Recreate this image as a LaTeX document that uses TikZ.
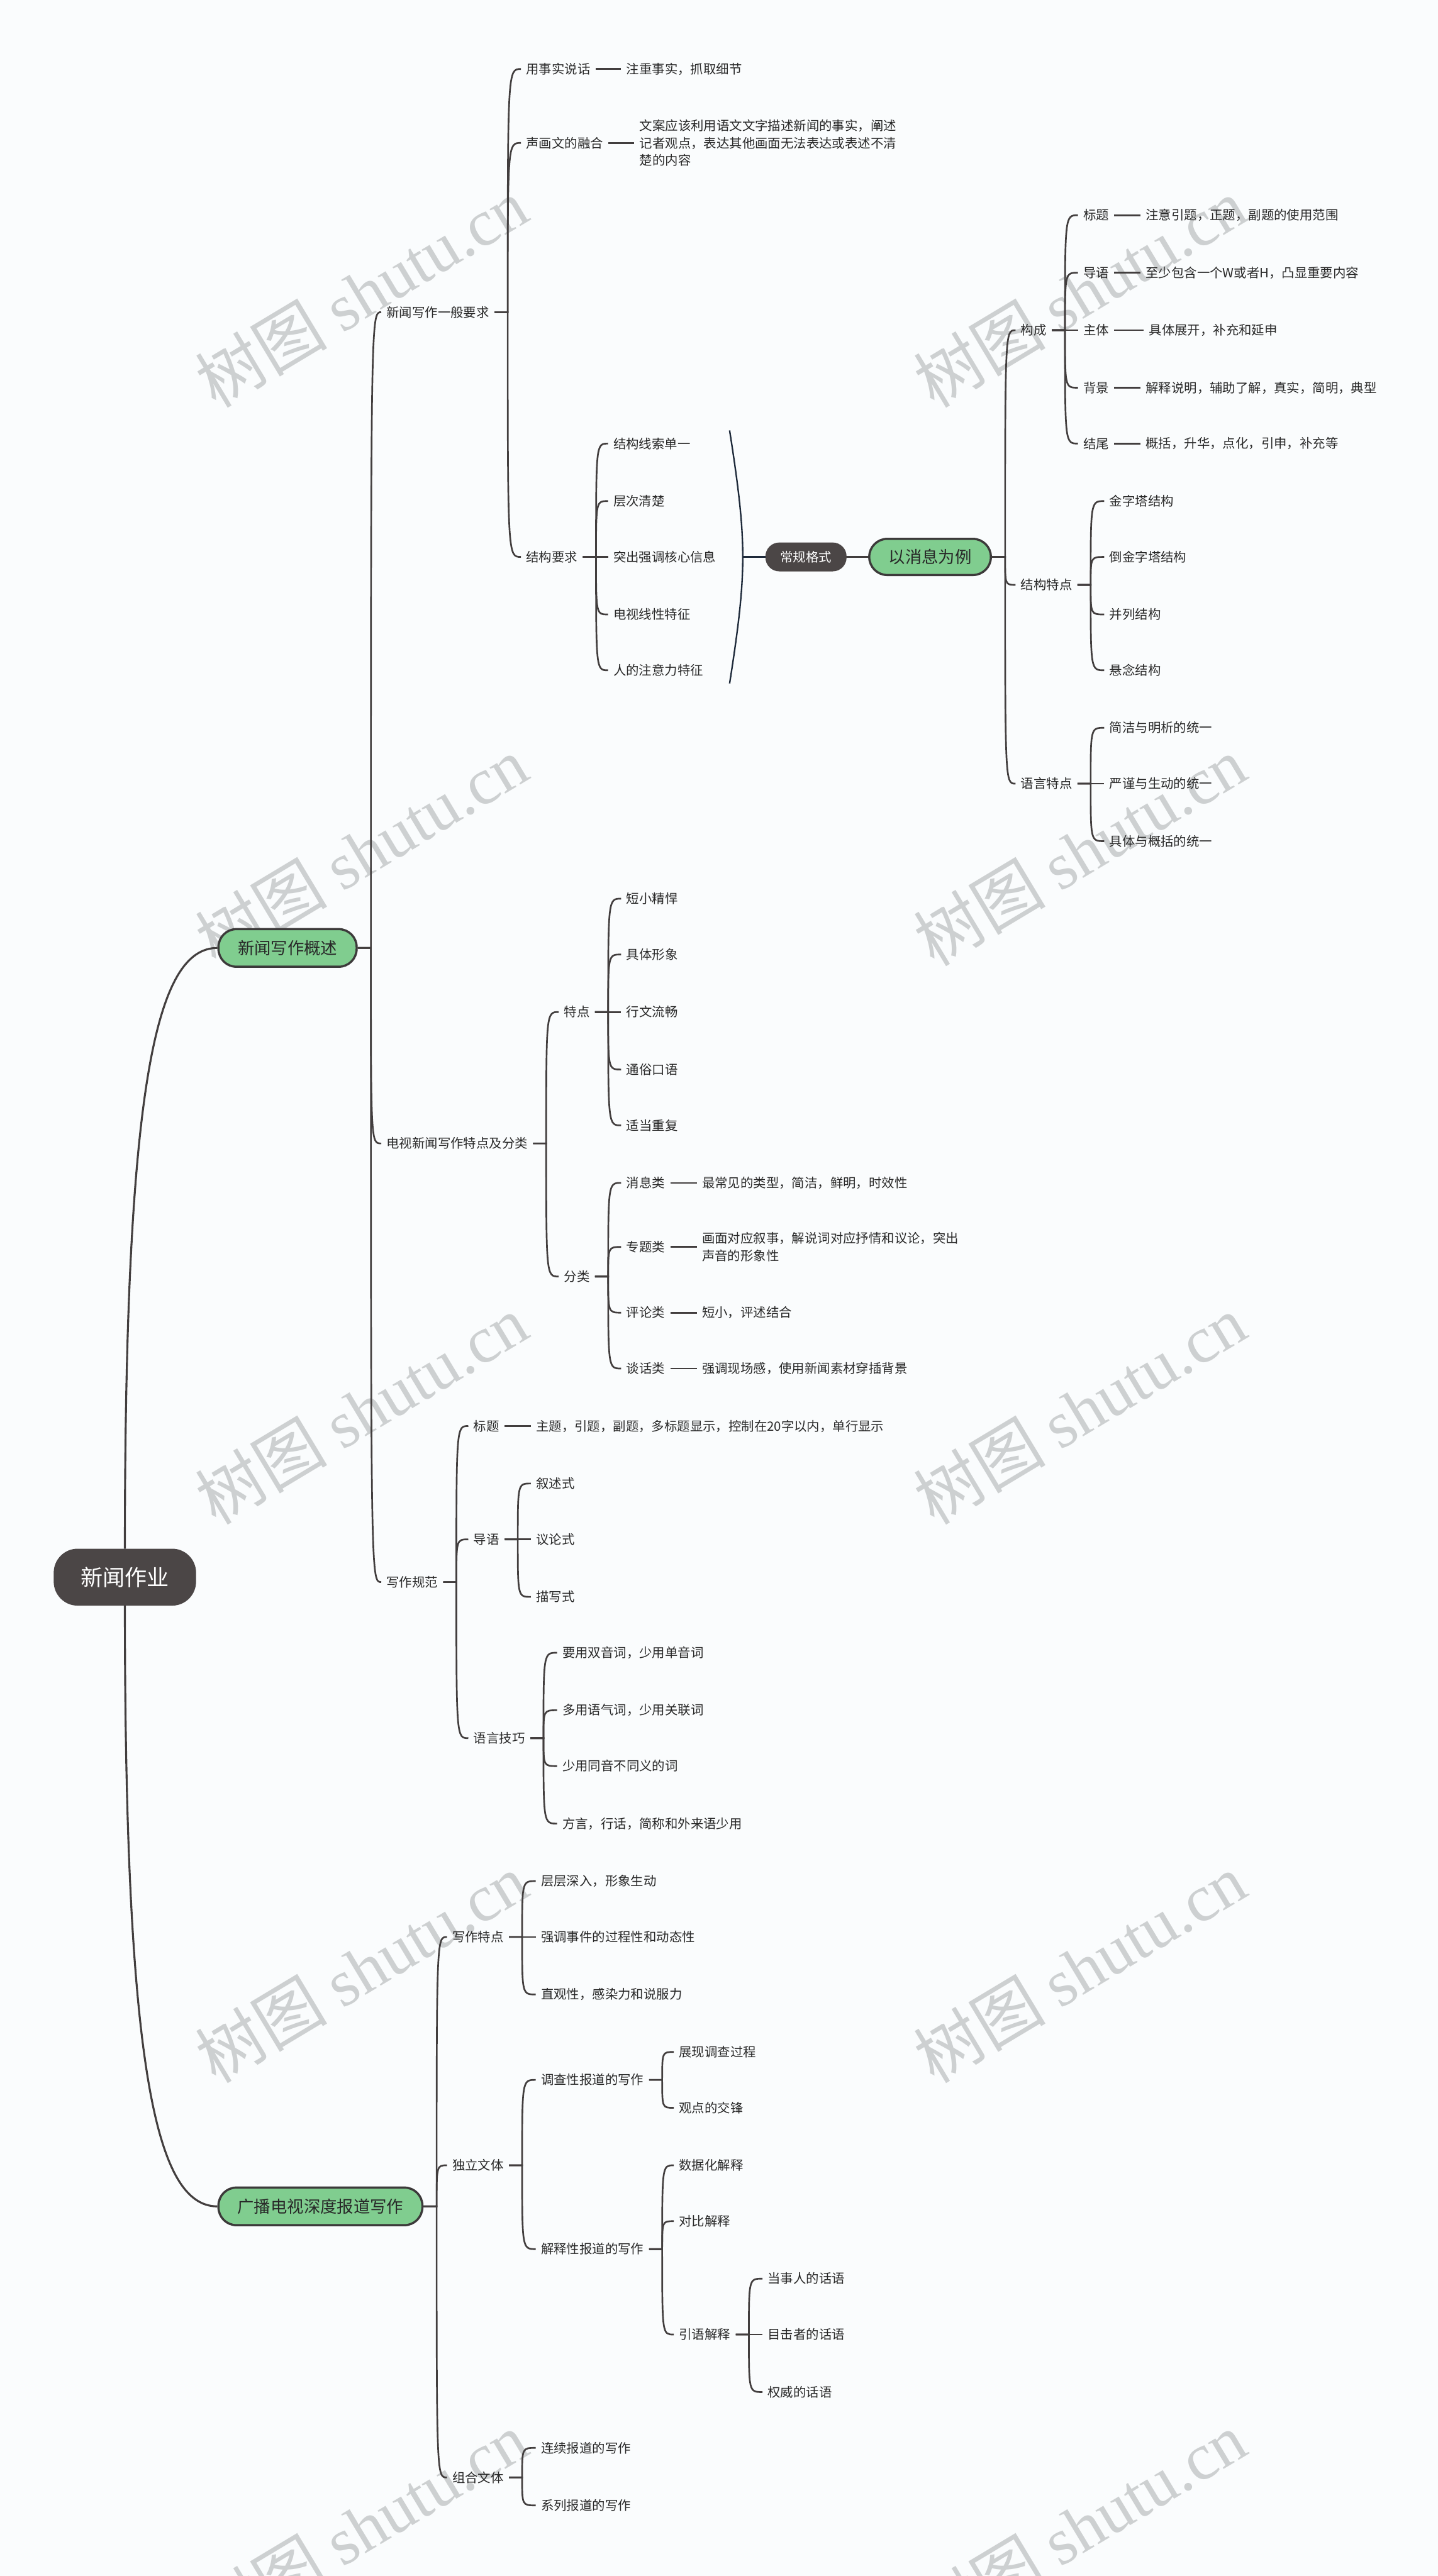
\documentclass[tikz,border=0pt]{standalone}
\usepackage{fontspec}
\setmainfont{Noto Sans CJK SC}
\newfontfamily\wmlat{Liberation Serif}
\usetikzlibrary{calc}
\definecolor{bgc}{RGB}{250,252,253}
\definecolor{linec}{RGB}{66,62,62}
\definecolor{textc}{RGB}{40,40,40}
\definecolor{greenc}{RGB}{128,205,143}
\definecolor{darkc}{RGB}{75,70,70}
\definecolor{bordc}{RGB}{60,58,58}
\definecolor{bracec}{RGB}{30,42,58}
\definecolor{wmc}{RGB}{205,208,209}
\tikzset{
  lbl/.style={anchor=west, inner xsep=2.5pt, inner ysep=1pt, text=textc,
    font=\fontsize{6.5pt}{8.7pt}\selectfont, align=left},
  conn/.style={draw=linec, line width=0.85pt},
  rootconn/.style={draw=linec, line width=1pt},
  rootbox/.style={fill=darkc, draw=darkc, rounded corners=0.42cm, minimum width=2.52cm,
    minimum height=1cm, text=white, font=\fontsize{11.2pt}{13pt}\selectfont, inner sep=0pt},
  greenbox/.style={fill=greenc, draw=bordc, line width=1.1pt, rounded corners=0.32cm,
    minimum height=0.67cm, text=textc, font=\fontsize{8.4pt}{10pt}\selectfont, inner sep=0pt},
  darkpill/.style={fill=darkc, draw=darkc, rounded corners=0.24cm, minimum width=1.43cm,
    minimum height=0.5cm, text=white, font=\fontsize{6.5pt}{8pt}\selectfont, inner sep=0pt},
  wm/.style={text=wmc, rotate=31, inner sep=0pt, font=\fontsize{33.5pt}{33.5pt}\selectfont},
  bracel/.style={draw=bracec, line width=0.75pt},
}
\newcommand\mmlink[2]{%
  \path (#1.east) ++(8,0) coordinate (J);
  \foreach \c in {#2}{%
    \draw[conn] (#1.east) -- (J) .. controls (J |- \c.west) and (J |- \c.west) .. (\c.west);
  }%
}
\newcommand\mmdesc[2]{\draw[conn] (#1.east) -- (#2.west);}
\begin{document}
\begin{tikzpicture}[x=0.029257cm, y=-0.029257cm]
\useasboundingbox (0,0) rectangle (875,1568);
\fill[bgc] (0,0) rectangle (875,1568);
% watermarks
\foreach \wx/\wy [count=\i] in {220/178,657/178,220/518,657/518,220/858,657/858,220/1198,657/1198,220/1538,657/1538}{
  \node[wm] (wm\i) at (\wx,\wy) {树图 {\wmlat shutu.cn}};
}
% root and level 1
\node[rootbox] (root) at (76,960) {新闻作业};
\node[greenbox, minimum width=2.46cm] (a) at (175,577) {新闻写作概述};
\node[greenbox, minimum width=3.63cm] (b) at (195,1343) {广播电视深度报道写作};
\draw[rootconn] (root.north) .. controls (76,660) and (95,577) .. (a.west);
\draw[rootconn] (root.south) .. controls (76,1260) and (95,1343) .. (b.west);

% level 2 under a
\node[lbl] (a1) at (232,190) {新闻写作一般要求};
\node[lbl] (a2) at (232,696) {电视新闻写作特点及分类};
\node[lbl] (a3) at (232,963) {写作规范};
\mmlink{a}{a1,a2,a3}

% a1
\node[lbl] (a11) at (317,42) {用事实说话};
\node[lbl] (a11d) at (378,42) {注重事实，抓取细节};
\node[lbl] (a12) at (317,87) {声画文的融合};
\node[lbl] (a12d) at (386,87) {文案应该利用语文文字描述新闻的事实，阐述\\记者观点，表达其他画面无法表达或表述不清\\楚的内容};
\node[lbl] (a13) at (317,339) {结构要求};
\mmlink{a1}{a11,a12,a13}
\mmdesc{a11}{a11d}
\mmdesc{a12}{a12d}

\node[lbl] (s1) at (370,270) {结构线索单一};
\node[lbl] (s2) at (370,305) {层次清楚};
\node[lbl] (s3) at (370,339) {突出强调核心信息};
\node[lbl] (s4) at (370,374) {电视线性特征};
\node[lbl] (s5) at (370,408) {人的注意力特征};
\mmlink{a13}{s1,s2,s3,s4,s5}

% summary brace
\coordinate (bt) at (444,262);
\coordinate (bm) at (452,339);
\coordinate (bb) at (444,416);
\draw[bracel] (bt) .. controls (450,300) and (452,320) .. (bm) .. controls (452,358) and (450,378) .. (bb);
\node[darkpill] (cg) at (490.5,339) {常规格式};
\draw[bracel, line width=0.9pt] (bm) -- (cg.west);
\node[greenbox, minimum width=2.165cm, minimum height=0.644cm] (yl) at (566,339) {以消息为例};
\draw[conn] (cg.east) -- (yl.west);

\node[lbl] (c1) at (618,201) {构成};
\node[lbl] (c2) at (618,356) {结构特点};
\node[lbl] (c3) at (618,477) {语言特点};
\mmlink{yl}{c1,c2,c3}

\node[lbl] (c11) at (656,131) {标题};
\node[lbl] (c11d) at (694,131) {注意引题，正题，副题的使用范围};
\node[lbl] (c12) at (656,166) {导语};
\node[lbl] (c12d) at (694,166) {至少包含一个W或者H，凸显重要内容};
\node[lbl] (c13) at (656,201) {主体};
\node[lbl] (c13d) at (696,201) {具体展开，补充和延申};
\node[lbl] (c14) at (656,236) {背景};
\node[lbl] (c14d) at (694,236) {解释说明，辅助了解，真实，简明，典型};
\node[lbl] (c15) at (656,270) {结尾};
\node[lbl] (c15d) at (694,270) {概括，升华，点化，引申，补充等};
\mmlink{c1}{c11,c12,c13,c14,c15}
\mmdesc{c11}{c11d}
\mmdesc{c12}{c12d}
\mmdesc{c13}{c13d}
\mmdesc{c14}{c14d}
\mmdesc{c15}{c15d}

\node[lbl] (c21) at (672,305) {金字塔结构};
\node[lbl] (c22) at (672,339) {倒金字塔结构};
\node[lbl] (c23) at (672,374) {并列结构};
\node[lbl] (c24) at (672,408) {悬念结构};
\mmlink{c2}{c21,c22,c23,c24}

\node[lbl] (c31) at (672,443) {简洁与明析的统一};
\node[lbl] (c32) at (672,477) {严谨与生动的统一};
\node[lbl] (c33) at (672,512) {具体与概括的统一};
\mmlink{c3}{c31,c32,c33}

% a2
\node[lbl] (a21) at (340,616) {特点};
\node[lbl] (a22) at (340,777) {分类};
\mmlink{a2}{a21,a22}

\node[lbl] (t1) at (378,547) {短小精悍};
\node[lbl] (t2) at (378,581) {具体形象};
\node[lbl] (t3) at (378,616) {行文流畅};
\node[lbl] (t4) at (378,651) {通俗口语};
\node[lbl] (t5) at (378,685) {适当重复};
\mmlink{a21}{t1,t2,t3,t4,t5}

\node[lbl] (f1) at (378,720) {消息类};
\node[lbl] (f1d) at (424,720) {最常见的类型，简洁，鲜明，时效性};
\node[lbl] (f2) at (378,759) {专题类};
\node[lbl] (f2d) at (424,759) {画面对应叙事，解说词对应抒情和议论，突出\\声音的形象性};
\node[lbl] (f3) at (378,799) {评论类};
\node[lbl] (f3d) at (424,799) {短小，评述结合};
\node[lbl] (f4) at (378,833) {谈话类};
\node[lbl] (f4d) at (424,833) {强调现场感，使用新闻素材穿插背景};
\mmlink{a22}{f1,f2,f3,f4}
\mmdesc{f1}{f1d}
\mmdesc{f2}{f2d}
\mmdesc{f3}{f3d}
\mmdesc{f4}{f4d}

% a3
\node[lbl] (g1) at (285,868) {标题};
\node[lbl] (g1d) at (323,868) {主题，引题，副题，多标题显示，控制在20字以内，单行显示};
\node[lbl] (g2) at (285,937) {导语};
\node[lbl] (g3) at (285,1058) {语言技巧};
\mmlink{a3}{g1,g2,g3}
\mmdesc{g1}{g1d}

\node[lbl] (g21) at (323,903) {叙述式};
\node[lbl] (g22) at (323,937) {议论式};
\node[lbl] (g23) at (323,972) {描写式};
\mmlink{g2}{g21,g22,g23}

\node[lbl] (g31) at (339,1006) {要用双音词，少用单音词};
\node[lbl] (g32) at (339,1041) {多用语气词，少用关联词};
\node[lbl] (g33) at (339,1075) {少用同音不同义的词};
\node[lbl] (g34) at (339,1110) {方言，行话，简称和外来语少用};
\mmlink{g3}{g31,g32,g33,g34}

% b
\node[lbl] (b1) at (272,1179) {写作特点};
\node[lbl] (b2) at (272,1318) {独立文体};
\node[lbl] (b3) at (272,1508) {组合文体};
\mmlink{b}{b1,b2,b3}

\node[lbl] (b11) at (326,1145) {层层深入，形象生动};
\node[lbl] (b12) at (326,1179) {强调事件的过程性和动态性};
\node[lbl] (b13) at (326,1214) {直观性，感染力和说服力};
\mmlink{b1}{b11,b12,b13}

\node[lbl] (b21) at (326,1266) {调查性报道的写作};
\node[lbl] (b22) at (326,1369) {解释性报道的写作};
\mmlink{b2}{b21,b22}

\node[lbl] (b211) at (410,1249) {展现调查过程};
\node[lbl] (b212) at (410,1283) {观点的交锋};
\mmlink{b21}{b211,b212}

\node[lbl] (b221) at (410,1318) {数据化解释};
\node[lbl] (b222) at (410,1352) {对比解释};
\node[lbl] (b223) at (410,1421) {引语解释};
\mmlink{b22}{b221,b222,b223}

\node[lbl] (q1) at (464,1387) {当事人的话语};
\node[lbl] (q2) at (464,1421) {目击者的话语};
\node[lbl] (q3) at (464,1456) {权威的话语};
\mmlink{b223}{q1,q2,q3}

\node[lbl] (b31) at (326,1490) {连续报道的写作};
\node[lbl] (b32) at (326,1525) {系列报道的写作};
\mmlink{b3}{b31,b32}
\end{tikzpicture}
\end{document}
